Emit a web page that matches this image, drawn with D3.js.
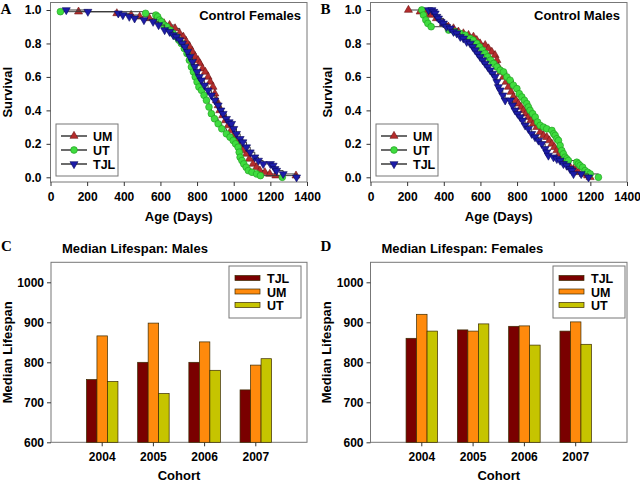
<!DOCTYPE html>
<html lang="en">
<head>
<meta charset="utf-8">
<title>Survival and median lifespan</title>
<script src="https://d3js.org/d3.v7.min.js"></script>
<style>
  body { margin: 0; background: #fff; }
  text { font-family: Arial, "Liberation Sans", sans-serif; font-weight: bold; fill: #000; }
  .letter { font-family: "Times New Roman", "Liberation Serif", serif; font-size: 15px; }
</style>
</head>
<body>
<div id="chart"></div>
<script>
// ---- data ----
// Kaplan-Meier points: [age in days, fraction surviving]
var femUM = [[153,0.99],[362,0.98],[440,0.97],[487,0.96],[540,0.95],[578,0.94],[620,0.92],[650,0.91],[680,0.89],[705,0.86],[725,0.84],[742,0.81],[760,0.78],[775,0.75],[790,0.72],[805,0.70],[815,0.68],[830,0.65],[845,0.63],[860,0.60],[872,0.57],[887,0.54],[897,0.50],[906,0.46],[915,0.43],[924,0.40],[940,0.37],[955,0.34],[970,0.31],[985,0.28],[1000,0.25],[1015,0.22],[1030,0.19],[1050,0.16],[1070,0.14],[1085,0.11],[1106,0.08],[1125,0.06],[1143,0.04],[1170,0.03],[1197,0.02],[1230,0.01],[1340,0.01]];
var femUT = [[54,0.99],[519,0.98],[575,0.97],[585,0.96],[595,0.94],[605,0.93],[620,0.91],[635,0.90],[653,0.88],[668,0.86],[687,0.84],[700,0.82],[714,0.80],[730,0.77],[745,0.74],[758,0.70],[769,0.66],[780,0.63],[790,0.60],[800,0.57],[810,0.54],[824,0.52],[838,0.49],[851,0.46],[865,0.42],[878,0.38],[895,0.35],[915,0.32],[935,0.29],[960,0.26],[980,0.24],[997,0.22],[1010,0.20],[1024,0.18],[1030,0.15],[1035,0.12],[1045,0.10],[1055,0.08],[1068,0.06],[1080,0.04],[1100,0.03],[1125,0.02],[1146,0.01],[1265,0.00]];
var femTJL = [[86,1.00],[204,0.99],[370,0.98],[395,0.97],[430,0.96],[459,0.95],[510,0.94],[560,0.93],[590,0.91],[623,0.88],[650,0.87],[670,0.85],[687,0.84],[705,0.82],[720,0.80],[733,0.78],[748,0.75],[760,0.72],[775,0.69],[787,0.66],[800,0.63],[812,0.60],[824,0.58],[840,0.55],[860,0.52],[878,0.49],[897,0.46],[915,0.43],[930,0.40],[942,0.38],[960,0.35],[975,0.33],[988,0.32],[1000,0.29],[1015,0.26],[1035,0.23],[1050,0.21],[1070,0.18],[1090,0.15],[1115,0.12],[1135,0.10],[1161,0.08],[1200,0.08],[1215,0.07],[1225,0.05],[1234,0.04],[1270,0.02],[1343,0.00]];

var maleUM = [[207,1.00],[271,0.99],[300,0.98],[330,0.97],[360,0.95],[398,0.92],[425,0.90],[453,0.89],[480,0.87],[507,0.86],[535,0.85],[562,0.84],[580,0.82],[598,0.80],[626,0.79],[644,0.77],[662,0.75],[680,0.73],[690,0.70],[698,0.66],[712,0.63],[726,0.60],[740,0.57],[753,0.54],[767,0.51],[780,0.48],[795,0.46],[807,0.44],[822,0.42],[835,0.40],[848,0.38],[862,0.36],[875,0.34],[889,0.32],[908,0.30],[926,0.27],[944,0.25],[962,0.24],[976,0.22],[990,0.20],[1004,0.18],[1017,0.16],[1030,0.14],[1044,0.12],[1058,0.10],[1071,0.08],[1090,0.06],[1108,0.05],[1120,0.04],[1135,0.03],[1162,0.02],[1185,0.01],[1199,0.00]];
var maleUT = [[280,1.00],[289,0.97],[302,0.94],[313,0.92],[331,0.90],[426,0.88],[460,0.87],[489,0.86],[517,0.85],[544,0.83],[560,0.82],[580,0.80],[595,0.78],[610,0.76],[625,0.74],[640,0.72],[655,0.70],[672,0.68],[690,0.66],[708,0.64],[726,0.63],[744,0.60],[762,0.58],[780,0.55],[799,0.53],[812,0.50],[826,0.48],[840,0.46],[853,0.44],[862,0.42],[871,0.40],[885,0.38],[899,0.36],[912,0.33],[926,0.31],[944,0.30],[962,0.29],[990,0.28],[1000,0.26],[1008,0.25],[1017,0.23],[1026,0.22],[1035,0.19],[1044,0.16],[1053,0.14],[1062,0.12],[1071,0.11],[1080,0.10],[1126,0.09],[1135,0.08],[1144,0.07],[1158,0.06],[1171,0.04],[1185,0.03],[1199,0.02],[1244,0.00]];
var maleTJL = [[317,1.00],[335,1.00],[345,0.99],[353,0.98],[362,0.96],[371,0.95],[385,0.93],[398,0.92],[415,0.90],[435,0.89],[453,0.87],[471,0.86],[490,0.84],[507,0.83],[525,0.81],[544,0.80],[558,0.78],[571,0.76],[585,0.74],[598,0.72],[612,0.70],[626,0.68],[640,0.66],[653,0.64],[667,0.62],[680,0.60],[690,0.57],[698,0.54],[708,0.52],[722,0.49],[735,0.46],[762,0.46],[775,0.43],[789,0.40],[803,0.38],[817,0.36],[830,0.34],[844,0.31],[862,0.29],[880,0.26],[898,0.24],[917,0.22],[935,0.20],[953,0.17],[962,0.15],[971,0.13],[999,0.12],[1017,0.11],[1035,0.10],[1053,0.08],[1071,0.07],[1089,0.05],[1100,0.04],[1108,0.02],[1150,0.02],[1190,0.00]];

// median lifespan (days) per cohort
var cohorts = ["2004", "2005", "2006", "2007"];
var strains = ["TJL", "UM", "UT"];
var medMaleTJL = [757, 800, 800, 731];
var medMaleUM  = [866, 898, 851, 793];
var medMaleUT  = [752, 722, 780, 809];
var medFemTJL  = [860, 881, 890, 878];
var medFemUM   = [920, 878, 891, 901];
var medFemUT   = [878, 896, 843, 845];

var ageTicks = [0, 200, 400, 600, 800, 1000, 1200, 1400];
var survTicks = [0, 0.2, 0.4, 0.6, 0.8, 1.0];
var lifeTicks = [600, 700, 800, 900, 1000];

// ---- styles ----
var markStyle = {
  UM:  { shape: d3.symbolTriangle, rot: 0,   fill: "#b52c2c", stroke: "#6e1a1a", size: 28 },
  UT:  { shape: d3.symbolCircle,   rot: 0,   fill: "#3fdc3f", stroke: "#1f9a1f", size: 36 },
  TJL: { shape: d3.symbolTriangle, rot: 180, fill: "#1c1ca8", stroke: "#0a0a5c", size: 28 }
};
var barColor = { TJL: "#7a0000", UM: "#ff8a0c", UT: "#c6c400" };

var svg = d3.select("#chart").append("svg")
  .attr("width", 640).attr("height", 482);

function cleanAxis(g) {
  g.select(".domain").remove();
  g.selectAll(".tick line").attr("stroke", "#333");
  g.selectAll(".tick text").style("font-size", "12px").style("font-family", "Arial, 'Liberation Sans', sans-serif").style("font-weight", "bold");
}

function survivalPanel(left, right, letter, title, titleRight, series) {
  var top = 2.5, bottom = 182;
  var x = d3.scaleLinear().domain([0, 1400]).range([left, right]);
  var y = d3.scaleLinear().domain([0, 1]).range([177.3, 10]);
  var g = svg.append("g");

  g.append("rect").attr("x", left).attr("y", top)
    .attr("width", right - left).attr("height", bottom - top)
    .attr("fill", "none").attr("stroke", "#777").attr("stroke-width", 1);

  g.append("g").attr("transform", "translate(0," + bottom + ")")
    .call(d3.axisBottom(x).tickValues(ageTicks).tickSize(4).tickPadding(6).tickFormat(d3.format("d")))
    .call(cleanAxis);
  g.append("g").attr("transform", "translate(" + left + ",0)")
    .call(d3.axisLeft(y).tickValues(survTicks).tickSize(4).tickPadding(5).tickFormat(d3.format(".1f")))
    .call(cleanAxis);

  g.append("text").attr("x", (left + right) / 2).attr("y", 221)
    .attr("text-anchor", "middle").style("font-size", "13px").text("Age (Days)");
  g.append("text").attr("transform", "translate(" + (left - 38.5) + "," + ((top + bottom) / 2) + ") rotate(-90)")
    .attr("text-anchor", "middle").style("font-size", "13px").text("Survival");
  g.append("text").attr("class", "letter").attr("x", left - 50).attr("y", 14).text(letter);
  g.append("text").attr("x", titleRight).attr("y", 20).attr("text-anchor", "end")
    .style("font-size", "13px").text(title);

  var line = d3.line().curve(d3.curveStepAfter)
    .x(function(d) { return x(d[0]); })
    .y(function(d) { return y(d[1]); });

  series.forEach(function(s) {
    var st = markStyle[s.name];
    g.append("path").datum(s.pts).attr("d", line)
      .attr("fill", "none").attr("stroke", "#3a3a3a").attr("stroke-width", 1);
    g.selectAll(null).data(s.pts).enter().append("path")
      .attr("d", d3.symbol().type(st.shape).size(st.size))
      .attr("transform", function(d) { return "translate(" + x(d[0]) + "," + y(d[1]) + ") rotate(" + st.rot + ")"; })
      .attr("fill", st.fill).attr("stroke", st.stroke).attr("stroke-width", 0.6);
  });

  // legend
  var lg = g.append("g").attr("transform", "translate(" + (left + 5.5) + ",124)");
  lg.append("rect").attr("width", 62).attr("height", 52)
    .attr("fill", "#fff").attr("stroke", "#777");
  ["UM", "UT", "TJL"].forEach(function(name, i) {
    var st = markStyle[name], yy = 12 + i * 14;
    lg.append("line").attr("x1", 5).attr("x2", 31).attr("y1", yy).attr("y2", yy)
      .attr("stroke", "#3a3a3a").attr("stroke-width", 1.5);
    lg.append("path").attr("d", d3.symbol().type(st.shape).size(st.size))
      .attr("transform", "translate(18," + yy + ") rotate(" + st.rot + ")")
      .attr("fill", st.fill).attr("stroke", st.stroke).attr("stroke-width", 0.6);
    lg.append("text").attr("x", 37).attr("y", yy + 4.5).style("font-size", "12.5px").text(name);
  });
}

function barPanel(left, right, legendRight, letter, title, values) {
  var top = 262.3, bottom = 442.3;
  var y = d3.scaleLinear().domain([600, 1050]).range([bottom, top]);
  var x0 = d3.scaleBand().domain(cohorts).range([left, right]).paddingInner(0).paddingOuter(0.5);
  var x1 = d3.scaleBand().domain(strains).range([-15.75, 15.75]);
  var g = svg.append("g");

  g.append("rect").attr("x", left).attr("y", top)
    .attr("width", right - left).attr("height", bottom - top)
    .attr("fill", "none").attr("stroke", "#777");

  g.append("g").attr("transform", "translate(0," + bottom + ")")
    .call(d3.axisBottom(x0).tickSize(4).tickPadding(6))
    .call(cleanAxis);
  g.append("g").attr("transform", "translate(" + left + ",0)")
    .call(d3.axisLeft(y).tickValues(lifeTicks).tickSize(4).tickPadding(3).tickFormat(d3.format("d")))
    .call(cleanAxis);

  var groups = g.selectAll(".grp").data(cohorts).enter().append("g")
    .attr("transform", function(c) { return "translate(" + (x0(c) + x0.bandwidth() / 2) + ",0)"; });
  groups.selectAll("rect").data(function(c, i) {
      return strains.map(function(s) { return { strain: s, v: values[s][i] }; });
    }).enter().append("rect")
    .attr("x", function(d) { return x1(d.strain); })
    .attr("width", x1.bandwidth())
    .attr("y", function(d) { return y(d.v); })
    .attr("height", function(d) { return bottom - y(d.v); })
    .attr("fill", function(d) { return barColor[d.strain]; })
    .attr("stroke", "#3a2a00").attr("stroke-width", 0.7);

  g.append("text").attr("x", (left + right) / 2).attr("y", 480)
    .attr("text-anchor", "middle").style("font-size", "13px").text("Cohort");
  g.append("text").attr("transform", "translate(" + (left - 39.5) + "," + ((top + bottom) / 2) + ") rotate(-90)")
    .attr("text-anchor", "middle").style("font-size", "13px").text("Median Lifespan");
  g.append("text").attr("class", "letter").attr("x", left - 50).attr("y", 251).text(letter);
  g.append("text").attr("x", left + 11).attr("y", 253).style("font-size", "13px").text(title);

  var lg = g.append("g").attr("transform", "translate(" + (legendRight - 72) + ",266)");
  lg.append("rect").attr("width", 72).attr("height", 52)
    .attr("fill", "#fff").attr("stroke", "#777");
  strains.forEach(function(s, i) {
    var yy = 9.5 + i * 13.5;
    lg.append("rect").attr("x", 6).attr("y", yy).attr("width", 25).attr("height", 5)
      .attr("fill", barColor[s]).attr("stroke", "#3a2a00").attr("stroke-width", 0.7);
    lg.append("text").attr("x", 38).attr("y", yy + 7.5).style("font-size", "12.5px").text(s);
  });
}

survivalPanel(50.5, 307, "A", "Control Females", 301, [
  { name: "UM", pts: femUM }, { name: "UT", pts: femUT }, { name: "TJL", pts: femTJL }
]);
survivalPanel(370.5, 627, "B", "Control Males", 620, [
  { name: "UM", pts: maleUM }, { name: "UT", pts: maleUT }, { name: "TJL", pts: maleTJL }
]);
barPanel(51, 307, 301, "C", "Median Lifespan: Males",
  { TJL: medMaleTJL, UM: medMaleUM, UT: medMaleUT });
barPanel(370.5, 627, 625, "D", "Median Lifespan: Females",
  { TJL: medFemTJL, UM: medFemUM, UT: medFemUT });
</script>
</body>
</html>
